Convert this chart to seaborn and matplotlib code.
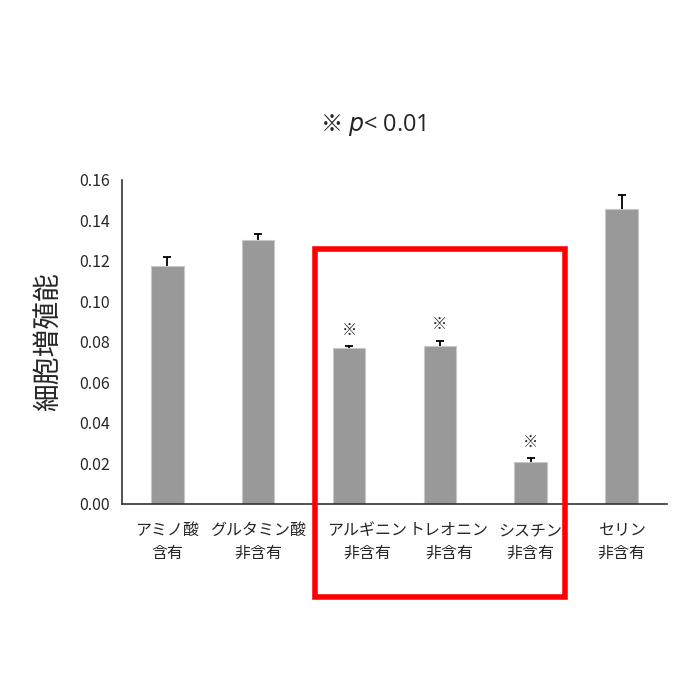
import numpy as np
import pandas as pd
import matplotlib
matplotlib.use('Agg')
import matplotlib.pyplot as plt
import matplotlib.transforms as mtransforms
import seaborn as sns
from matplotlib.patches import Rectangle

sns.set_style('white')
plt.rcParams['font.family'] = ['Noto Sans CJK JP', 'DejaVu Sans']
plt.rcParams['axes.unicode_minus'] = False

# データ
labels = ['アミノ酸\n含有', 'グルタミン酸\n非含有', 'アルギニン\n非含有',
          'トレオニン\n非含有', 'シスチン\n非含有', 'セリン\n非含有']
values = [0.1177, 0.1304, 0.0769, 0.0782, 0.0209, 0.1455]
errors = [0.0043, 0.0029, 0.0013, 0.0025, 0.0018, 0.0071]
significant = [False, False, True, True, True, False]

df = pd.DataFrame({'label': labels, 'value': values})

fig = plt.figure(figsize=(7, 7), dpi=100)
ax = fig.add_axes([0.174, 0.28, 0.779, 0.463])

sns.barplot(data=df, x='label', y='value', color='#999999', width=0.36,
            edgecolor='#c8c8c8', linewidth=0.8, saturation=1, errorbar=None, ax=ax)

# 誤差棒（上側のみ）
x = np.arange(len(labels))
tops = np.array(values) + np.array(errors)
ax.vlines(x, values, tops, color='black', linewidth=1.3)
ax.hlines(tops, x - 0.045, x + 0.045, color='black', linewidth=1.3)

# ※ マーク
for xi, t, s in zip(x, tops, significant):
    if s:
        ax.text(xi, t + 0.0035, '※', ha='center', va='bottom', fontsize=11)

ax.set_xlim(-0.5, 5.5)
ax.set_ylim(0, 0.16)
yt = np.arange(0, 0.161, 0.02)
ax.set_yticks(yt)
ax.set_yticklabels([f'{t:.2f}' for t in yt])
ax.set_xticks(x)
ax.set_xticklabels(labels, fontsize=11.5, linespacing=1.45)
ax.set_xticks(np.arange(-0.5, 5.6, 1), minor=True)
ax.tick_params(axis='x', which='major', length=0, pad=13)
ax.tick_params(axis='x', which='minor', direction='out', length=5, width=1, color='#333333')
ax.tick_params(axis='y', direction='out', length=5, width=1, color='#333333', labelsize=11.5)
ax.set_xlabel('')
ax.set_ylabel('細胞増殖能', fontsize=20, labelpad=12)

# 赤枠にかからないようにラベルを少し右へ
shifts = {2: 18, 3: 9}
for i, lab in enumerate(ax.get_xticklabels()):
    if i in shifts:
        off = mtransforms.ScaledTranslation(shifts[i] / 100, 0, fig.dpi_scale_trans)
        lab.set_transform(lab.get_transform() + off)

sns.despine(ax=ax)
for sp in ['left', 'bottom']:
    ax.spines[sp].set_color('#333333')
    ax.spines[sp].set_linewidth(1.2)

fig.text(0.497, 0.822, '※ ', ha='right', va='center', fontsize=16)
fig.text(0.497, 0.822, r'$p$< 0.01', ha='left', va='center', fontsize=17,
         family=['Open Sans', 'DejaVu Sans'])

# 赤い枠
fig.patches.append(Rectangle((0.45, 0.147), 0.357, 0.4966, transform=fig.transFigure,
                             fill=False, edgecolor='#ff0000', linewidth=4))

fig.savefig('out.png', dpi=100)
